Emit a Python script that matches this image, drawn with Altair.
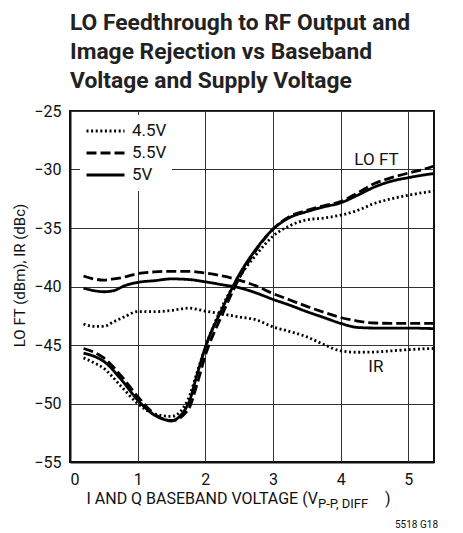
import altair as alt
import pandas as pd

FONT = "Liberation Sans Narrow, Roboto, sans-serif"

supplies = ["4.5V", "5.5V", "5V"]

# LO feedthrough curves
lo_x = [0.2, 0.35, 0.5, 0.75, 1.0, 1.25, 1.5, 1.75, 1.875, 2.0, 2.25, 2.5, 2.75,
        3.0, 3.25, 3.5, 3.75, 4.0, 4.25, 4.5, 4.75, 5.0, 5.25, 5.38]
lo_45 = [-46.1, -46.5, -47.0, -48.5, -50.0, -50.9, -51.1, -49.6, -47.4, -45.2, -41.7,
         -39.2, -37.3, -35.7, -34.8, -34.3, -34.15, -33.9, -33.5, -32.9, -32.5, -32.2, -31.95, -31.85]
lo_55 = [-45.3, -45.6, -46.1, -47.6, -49.4, -50.9, -51.5, -50.5, -48.4, -45.9, -42.4,
         -39.3, -36.9, -35.1, -34.0, -33.5, -33.1, -32.75, -32.0, -31.2, -30.7, -30.3, -29.95, -29.7]
lo_50 = [-45.7, -45.95, -46.4, -47.9, -49.7, -51.0, -51.45, -50.0, -47.6, -45.2, -41.9,
         -39.0, -36.8, -35.1, -34.1, -33.6, -33.2, -32.85, -32.2, -31.5, -31.0, -30.7, -30.45, -30.35]

# Image rejection curves
ir_x = [0.2, 0.35, 0.5, 0.65, 0.8, 1.0, 1.25, 1.5, 1.75, 2.0, 2.25, 2.5, 2.75, 3.0,
        3.25, 3.5, 3.75, 4.0, 4.25, 4.5, 4.75, 5.0, 5.25, 5.38]
ir_45 = [-43.2, -43.4, -43.4, -43.0, -42.6, -42.15, -42.15, -42.05, -41.85, -42.1, -42.35,
         -42.6, -42.85, -43.45, -43.85, -44.3, -44.95, -45.5, -45.62, -45.6, -45.5, -45.4, -45.32, -45.3]
ir_55 = [-39.1, -39.35, -39.45, -39.35, -39.2, -38.9, -38.75, -38.7, -38.7, -38.85, -39.1,
         -39.45, -39.95, -40.6, -41.15, -41.7, -42.2, -42.65, -42.95, -43.12, -43.15, -43.15, -43.15, -43.15]
ir_50 = [-40.15, -40.35, -40.45, -40.35, -39.95, -39.65, -39.5, -39.35, -39.4, -39.6, -39.85,
         -40.1, -40.55, -41.1, -41.6, -42.15, -42.65, -43.15, -43.5, -43.55, -43.55, -43.55, -43.58, -43.6]

rows = []
for sup, ys in zip(supplies, [lo_45, lo_55, lo_50]):
    for xv, yv in zip(lo_x, ys):
        rows.append({"x": xv, "y": yv, "supply": sup, "curve": "LO FT"})
for sup, ys in zip(supplies, [ir_45, ir_55, ir_50]):
    for xv, yv in zip(ir_x, ys):
        rows.append({"x": xv, "y": yv, "supply": sup, "curve": "IR"})
df = pd.DataFrame(rows)

label_text = ["LO FT", "IR"]
label_x = [4.53, 4.52]
label_y = [-29.2, -46.85]
labels_df = pd.DataFrame({"x": label_x, "y": label_y, "t": label_text})

x_scale = alt.Scale(domain=[0, 5.38], nice=False)
y_scale = alt.Scale(domain=[-55, -25], nice=False)

lines = alt.Chart(df).mark_line(interpolate="monotone", strokeWidth=2.8, color="black",
                                strokeCap="butt").encode(
    x=alt.X("x:Q", scale=x_scale,
            axis=alt.Axis(values=[0, 1, 2, 3, 4, 5], format="d", title=None, grid=True, ticks=False,
                          labelPadding=9, labelFontSize=16, labelFont=FONT,
                          labelColor="#111", gridColor="#333", gridWidth=1,
                          domainColor="#111", domainWidth=2)),
    y=alt.Y("y:Q", scale=y_scale,
            axis=alt.Axis(values=[-55, -50, -45, -40, -35, -30, -25], title="LO FT (dBm), IR (dBc)",
                          grid=True, ticks=False, labelPadding=9, labelFontSize=16,
                          labelFont=FONT, labelColor="#111", gridColor="#333", gridWidth=1,
                          domainColor="#111", domainWidth=2,
                          titleFont=FONT, titleFontSize=15, titleFontWeight="normal",
                          titleColor="#111", titleX=-46, titleY=164,
                          titleBaseline="alphabetic", titleAlign="center")),
    strokeDash=alt.StrokeDash("supply:N",
                              scale=alt.Scale(domain=supplies,
                                              range=[[2, 2.6], [10, 4], [1, 0]]),
                              legend=alt.Legend(title=None, orient="none", legendX=10, legendY=4,
                                                fillColor="white", padding=5,
                                                symbolType="stroke", symbolSize=1444,
                                                symbolStrokeWidth=2.8, symbolStrokeColor="black",
                                                labelFont=FONT, labelFontSize=17, labelColor="#111",
                                                labelOffset=6, rowPadding=0, clipHeight=22)),
    detail="curve:N",
)

curve_labels = alt.Chart(labels_df).mark_text(font=FONT, fontSize=17, color="#111").encode(
    x=alt.X("x:Q", scale=x_scale), y=alt.Y("y:Q", scale=y_scale), text="t:N")

xt_main = ["I AND Q BASEBAND VOLTAGE (V"]
xt_sub = ["P-P, DIFF"]
xt_close = [")"]
note = ["5518 G18"]

t_main = alt.Chart(pd.DataFrame({"t": xt_main})).mark_text(
    font=FONT, fontSize=16, align="right", baseline="alphabetic", color="#111").encode(
    x=alt.value(248), y=alt.value(393), text="t:N")
t_sub = alt.Chart(pd.DataFrame({"t": xt_sub})).mark_text(
    font=FONT, fontSize=13, align="left", baseline="alphabetic", color="#111").encode(
    x=alt.value(248), y=alt.value(397), text="t:N")
t_close = alt.Chart(pd.DataFrame({"t": xt_close})).mark_text(
    font=FONT, fontSize=16, align="left", baseline="alphabetic", color="#111").encode(
    x=alt.value(315), y=alt.value(393), text="t:N")
t_note = alt.Chart(pd.DataFrame({"t": note})).mark_text(
    font=FONT, fontSize=10, align="right", baseline="alphabetic", color="#111").encode(
    x=alt.value(368), y=alt.value(417), text="t:N")

chart = alt.layer(lines, curve_labels, t_main, t_sub, t_close, t_note).properties(
    width=364, height=351,
    title=alt.TitleParams(
        text=["LO Feedthrough to RF Output and", "Image Rejection vs Baseband", "\u2009Voltage and Supply Voltage"],
        anchor="start", frame="group", font=FONT, fontSize=22.8, fontWeight="bold",
        color="#222", lineHeight=29, offset=10),
    autosize=alt.AutoSizeParams(type="none"),
    padding={"left": 62, "top": 103, "right": 21, "bottom": 70},
).configure_view(stroke="#111", strokeWidth=2)

chart.save("out.html", embed_options={"renderer": "svg", "actions": False})
